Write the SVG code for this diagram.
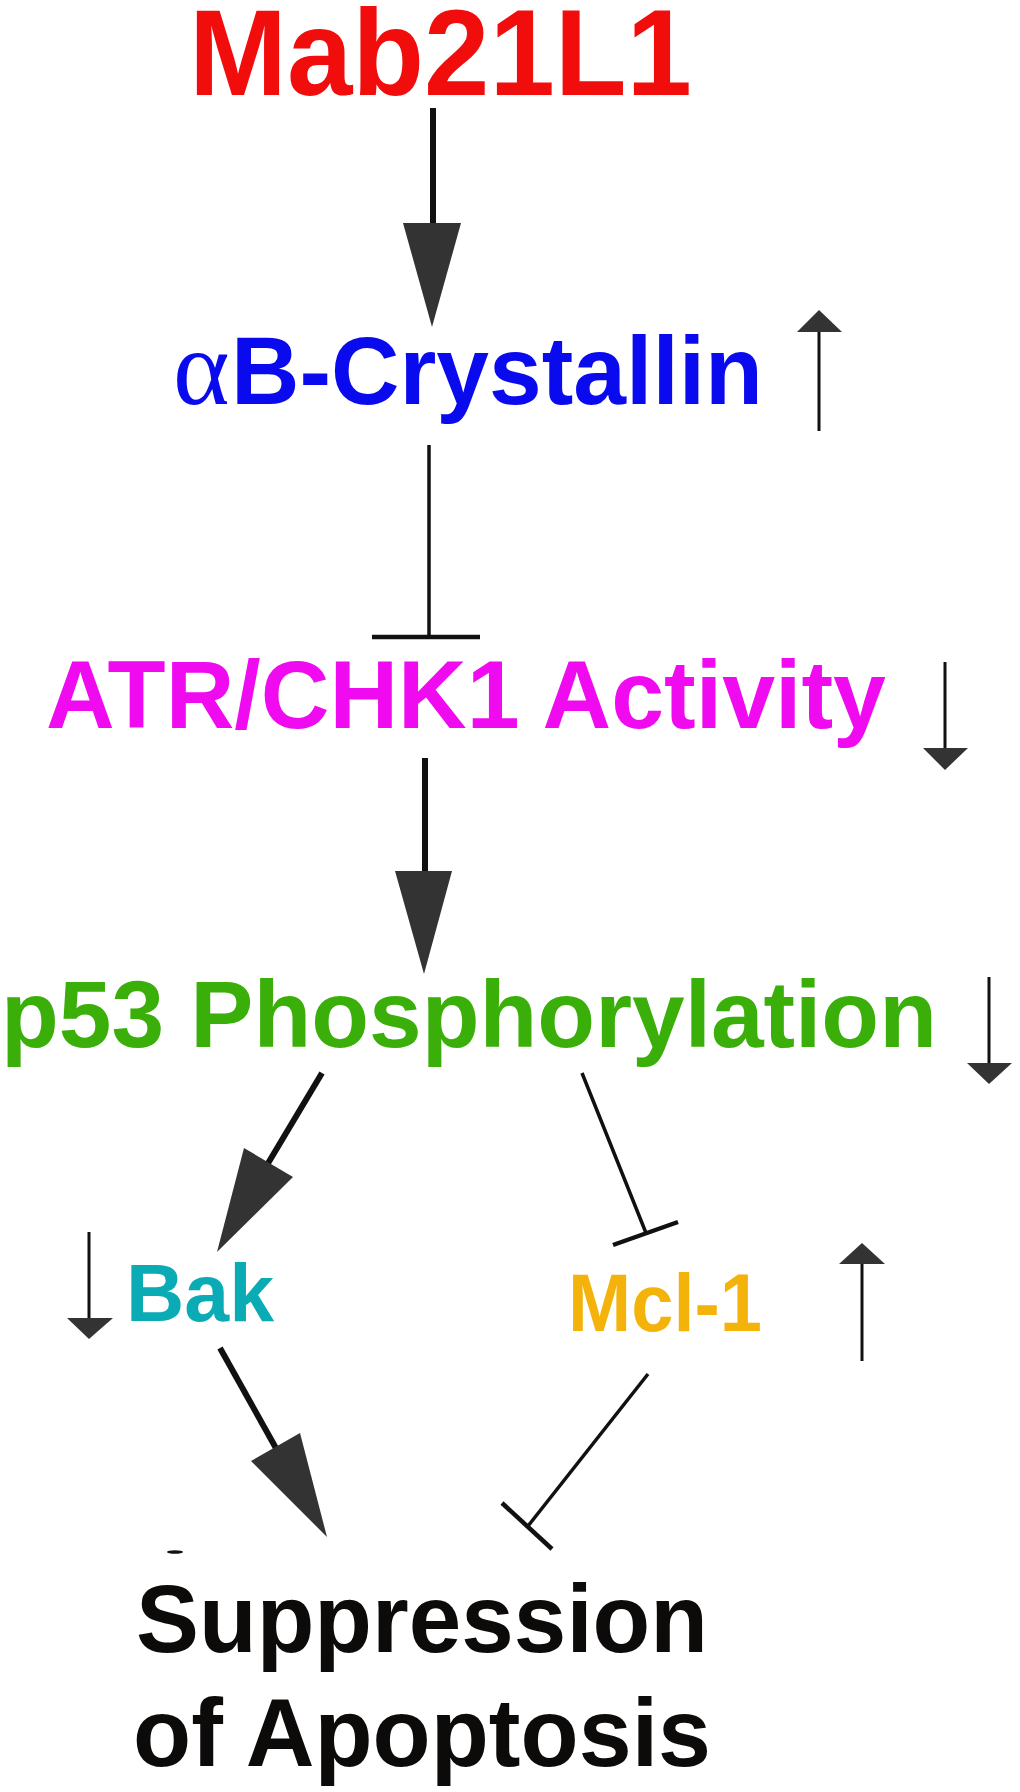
<svg xmlns="http://www.w3.org/2000/svg" width="1020" height="1792" viewBox="0 0 1020 1792">
<style>
.t{font-family:"Liberation Sans",Arial,Helvetica,sans-serif;font-weight:bold}
.thick{stroke:#111;stroke-width:6;fill:none}
.thin{stroke:#111;stroke-width:3.5;fill:none}
.hair{stroke:#111;stroke-width:3;fill:none}
.bar{stroke:#111;stroke-width:4.5;fill:none}
.head{fill:#333}
</style>
<rect width="1020" height="1792" fill="#fff"/>
<g id="connectors">
  <line class="thick" x1="433" y1="108" x2="433" y2="226"/>
  <polygon class="head" points="403,223 461,223 432,327"/>
  <line class="thin" x1="429" y1="445" x2="429" y2="636"/>
  <line class="bar" x1="372" y1="637" x2="480" y2="637"/>
  <line class="thick" x1="425" y1="758" x2="425" y2="874"/>
  <polygon class="head" points="395,871 452,871 424,974"/>
  <line class="thick" x1="322" y1="1073" x2="267" y2="1165"/>
  <polygon class="head" points="244,1148 293,1177 217,1252"/>
  <line class="thin" x1="582" y1="1073" x2="646" y2="1233"/>
  <line class="bar" x1="613" y1="1245" x2="678" y2="1222"/>
  <line class="thick" x1="220" y1="1348" x2="277" y2="1450"/>
  <polygon class="head" points="251,1461 300,1433 327,1537"/>
  <line class="thin" x1="648" y1="1374" x2="528" y2="1526"/>
  <line class="bar" x1="502" y1="1503" x2="552" y2="1549"/>
  <ellipse cx="175" cy="1552" rx="8" ry="1.8" fill="#111"/>
</g>
<g id="indicators">
  <line class="hair" x1="819" y1="330" x2="819" y2="431"/>
  <polygon class="head" points="797,332 842,332 819,310"/>
  <line class="hair" x1="945" y1="662" x2="945" y2="750"/>
  <polygon class="head" points="923,748 968,748 945,770"/>
  <line class="hair" x1="989" y1="977" x2="989" y2="1065"/>
  <polygon class="head" points="967,1063 1012,1063 989,1084"/>
  <line class="hair" x1="89" y1="1232" x2="89" y2="1320"/>
  <polygon class="head" points="67,1318 113,1318 89,1339"/>
  <line class="hair" x1="862" y1="1262" x2="862" y2="1361"/>
  <polygon class="head" points="839,1264 885,1264 862,1243"/>
</g>
<g id="node-mab21l1">
  <text class="t" x="189" y="95" font-size="123" fill="#F20D0D" textLength="503" lengthAdjust="spacingAndGlyphs">Mab21L1</text>
</g>
<g id="node-crystallin">
  <text x="173" y="404" font-family="'Liberation Serif','Times New Roman',serif" font-size="108" fill="#0A0AEE">α</text>
  <text class="t" x="231" y="404" font-size="96" fill="#0A0AEE" textLength="532" lengthAdjust="spacingAndGlyphs">B-Crystallin</text>
</g>
<g id="node-atr">
  <text class="t" x="46" y="728" font-size="96" fill="#F00AF0" textLength="840" lengthAdjust="spacingAndGlyphs">ATR/CHK1 Activity</text>
</g>
<g id="node-p53">
  <text class="t" x="1" y="1047" font-size="95" fill="#3AAF0A" textLength="936" lengthAdjust="spacingAndGlyphs">p53 Phosphorylation</text>
</g>
<g id="node-bak">
  <text class="t" x="126" y="1321" font-size="81" fill="#0AABB4" textLength="148" lengthAdjust="spacingAndGlyphs">Bak</text>
</g>
<g id="node-mcl1">
  <text class="t" x="568" y="1331" font-size="81" fill="#F4B30A" textLength="194" lengthAdjust="spacingAndGlyphs">Mcl-1</text>
</g>
<g id="node-suppression">
  <text class="t" x="136" y="1652" font-size="96" fill="#0D0A0A" textLength="572" lengthAdjust="spacingAndGlyphs">Suppression</text>
  <text class="t" x="133" y="1766" font-size="96" fill="#0D0A0A" textLength="578" lengthAdjust="spacingAndGlyphs">of Apoptosis</text>
</g>
</svg>
